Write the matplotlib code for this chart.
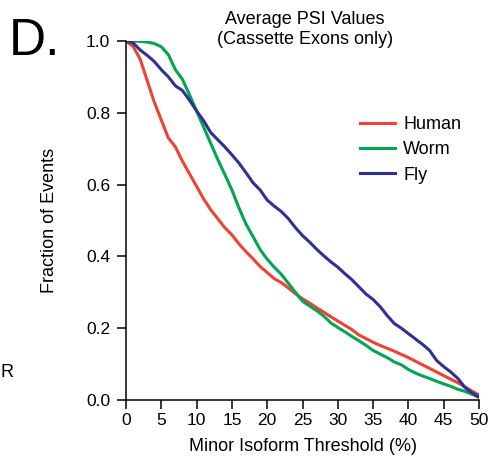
import numpy as np
import matplotlib
matplotlib.use("Agg")
import matplotlib.pyplot as plt

plt.rcParams["font.family"] = ["Liberation Sans", "DejaVu Sans"]

# Umbral del isoforma menor (%)
threshold = np.arange(0, 51)

human = [1.0, 0.985, 0.95, 0.89, 0.83, 0.78, 0.73, 0.705, 0.665, 0.63,
         0.595, 0.56, 0.53, 0.505, 0.48, 0.46, 0.435, 0.413, 0.393, 0.372,
         0.355, 0.338, 0.327, 0.312, 0.296, 0.282, 0.27, 0.257, 0.245, 0.232,
         0.22, 0.208, 0.196, 0.181, 0.171, 0.161, 0.152, 0.144, 0.136, 0.127,
         0.118, 0.108, 0.098, 0.088, 0.078, 0.068, 0.058, 0.048, 0.037, 0.025,
         0.014]
worm = [1.0, 1.0, 0.999, 0.997, 0.993, 0.984, 0.962, 0.92, 0.893, 0.85,
        0.805, 0.76, 0.715, 0.67, 0.628, 0.585, 0.535, 0.49, 0.455, 0.419,
        0.392, 0.37, 0.35, 0.325, 0.3, 0.275, 0.262, 0.249, 0.234, 0.215,
        0.202, 0.19, 0.177, 0.165, 0.152, 0.138, 0.128, 0.118, 0.106, 0.098,
        0.085, 0.075, 0.067, 0.06, 0.052, 0.045, 0.038, 0.03, 0.024, 0.016,
        0.008]
fly = [1.0, 0.995, 0.975, 0.96, 0.943, 0.92, 0.9, 0.875, 0.862, 0.835,
       0.805, 0.778, 0.745, 0.725, 0.705, 0.683, 0.66, 0.633, 0.605, 0.585,
       0.557, 0.54, 0.525, 0.505, 0.48, 0.458, 0.44, 0.42, 0.402, 0.385,
       0.37, 0.352, 0.335, 0.315, 0.295, 0.28, 0.26, 0.235, 0.213, 0.2,
       0.185, 0.17, 0.155, 0.138, 0.11, 0.093, 0.078, 0.06, 0.035, 0.02,
       0.008]

xticks = np.arange(0, 51, 5)
yticks = [0.0, 0.2, 0.4, 0.6, 0.8, 1.0]

fig = plt.figure(figsize=(4.91, 4.57), dpi=100)
ax = fig.add_axes([0.2566, 0.1247, 0.719, 0.7856])

ax.plot(threshold, human, color="#EF4136", lw=2.2, label="Human")
ax.plot(threshold, worm, color="#00A651", lw=2.2, label="Worm")
ax.plot(threshold, fly, color="#2E3192", lw=2.2, label="Fly")

ax.set_xlim(0, 50)
ax.set_ylim(0, 1.0)
ax.set_xticks(xticks)
ax.set_yticks(yticks)
ax.set_yticklabels([f"{v:.1f}" for v in yticks])
ax.tick_params(direction="out", length=6.3, width=1.1, labelsize=12.5)
ax.tick_params(axis="x", pad=3.0)
ax.tick_params(axis="y", pad=5)
for s in ["top", "right"]:
    ax.spines[s].set_visible(False)
for s in ["left", "bottom"]:
    ax.spines[s].set_linewidth(1.1)

ax.set_xlabel("Minor Isoform Threshold (%)", fontsize=13, labelpad=7)
ax.set_ylabel("Fraction of Events", fontsize=13)
ax.yaxis.set_label_coords(-0.193, 0.5)

leg = ax.legend(frameon=False, fontsize=13, loc="center left",
                bbox_to_anchor=(0.733, 0.672), bbox_transform=fig.transFigure,
                borderpad=0, borderaxespad=0, handlelength=1.95,
                handletextpad=0.45, labelspacing=0.45)

fig.text(0.621, 0.976, "Average PSI Values\n(Cassette Exons only)",
         ha="center", va="top", fontsize=13, linespacing=1.25)
fig.text(0.018, 0.962, "D.", fontsize=37, va="top", ha="left")
fig.text(0.0, 0.184, "R", fontsize=13, va="center", ha="left")

fig.savefig("out.png", dpi=100)
